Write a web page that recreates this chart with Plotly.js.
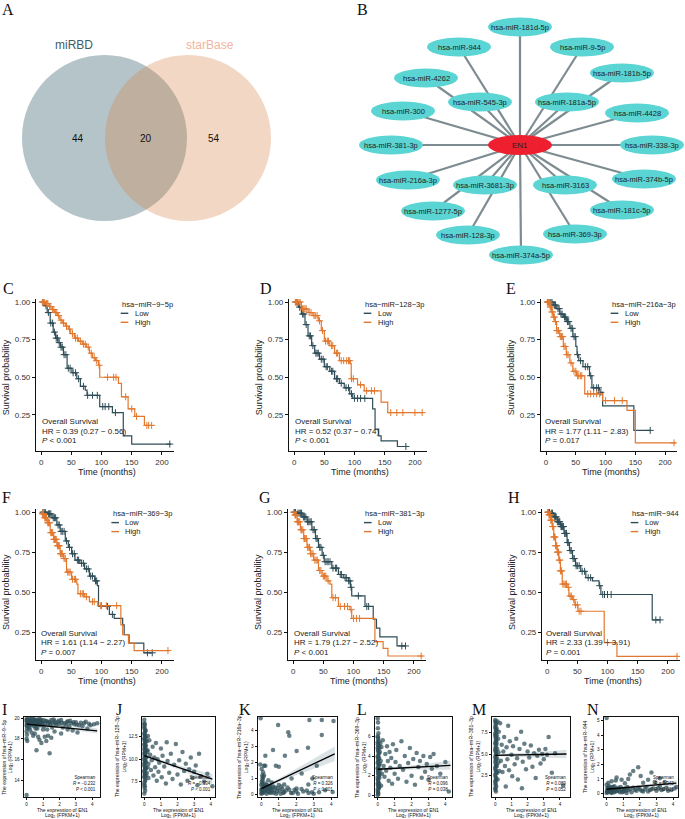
<!DOCTYPE html>
<html><head><meta charset="utf-8">
<script src="https://cdn.plot.ly/plotly-3.0.1.min.js"></script>
<style>html,body{margin:0;padding:0;background:#fff}#chart{width:685px;height:819px}</style>
</head><body><div id="chart"></div>
<script>
// ---------------- DATA ----------------
// A: Venn
const vennSets = ['miRBD', 'starBase'];
const vennCounts = [44, 20, 54];

// B: network (layout coordinates of the drawing, EN1 at origin)
const hubName = 'EN1';
const nodeNames = ['hsa-miR-181d-5p','hsa-miR-944','hsa-miR-9-5p','hsa-miR-4262','hsa-miR-181b-5p','hsa-miR-545-3p','hsa-miR-181a-5p','hsa-miR-300','hsa-miR-4428','hsa-miR-381-3p','hsa-miR-338-3p','hsa-miR-216a-3p','hsa-miR-3681-3p','hsa-miR-3163','hsa-miR-374b-5p','hsa-miR-1277-5p','hsa-miR-181c-5p','hsa-miR-128-3p','hsa-miR-369-3p','hsa-miR-374a-5p'];
const nodeX = [0, -61, 62, -94, 102, -40, 47, -117, 117, -129, 132, -112, -35, 45, 124, -87, 102, -52, 55, 1];
const nodeY = [118, 98, 98, 67, 72, 43, 43, 34, 32, 0, 0, -35, -40, -40, -34, -66, -65, -90, -89, -110];

// C-H: Kaplan-Meier
const kmGenes = ['hsa−miR−9−5p','hsa−miR−128−3p','hsa−miR−216a−3p','hsa−miR−369−3p','hsa−miR−381−3p','hsa−miR−944'];
const kmHR = ['HR = 0.39 (0.27 − 0.56)','HR = 0.52 (0.37 − 0.74)','HR = 1.77 (1.11 − 2.83)','HR = 1.61 (1.14 − 2.27)','HR = 1.79 (1.27 − 2.52)','HR = 2.33 (1.39 − 3.91)'];
const kmP = ['&lt; 0.001','&lt; 0.001','= 0.017','= 0.007','&lt; 0.001','= 0.001'];
const groupNames = ['Low', 'High'];
const timeTicks = [0, 50, 100, 150, 200];
const survTicks = [0.25, 0.50, 0.75, 1.00];

const C_lowT = [0,5,10,15,20,24,28,32,37,43,51,59,65,73,76,97,118,136,150,215];
const C_lowS = [1,.975,.93,.86,.80,.76,.73,.70,.65,.56,.53,.49,.44,.415,.38,.305,.265,.11,.056,.056];
const C_lowC = [3,8,12,16,19,22,25,27,30,33,35,38,41,45,48,53,57,62,70,77,85,93,102,106,112,123,213];
const C_highT = [0,8,13,18,22,27,31,35,40,45,49,55,62,68,75,80,85,90,95,97,128,133,144,155,171,183];
const C_highS = [1,.99,.97,.95,.93,.91,.88,.86,.84,.82,.79,.76,.74,.72,.70,.66,.63,.61,.58,.50,.46,.37,.29,.24,.18,.18];
const C_highC = [2,4,6,9,11,14,16,19,21,24,26,29,33,37,42,47,52,57,60,65,70,73,78,83,88,92,96,110,120,124,140,150,158,175,178,183];

const D_lowT = [0,7,12,18,23,29,34,42,50,59,67,75,83,92,97,130,134,140,144,171,187];
const D_lowS = [1,.966,.92,.85,.775,.71,.66,.62,.57,.54,.49,.46,.43,.39,.36,.29,.155,.11,.077,.04,.04];
const D_lowC = [3,5,9,14,16,20,25,27,31,36,38,40,45,48,53,55,62,64,70,72,78,86,90,95,100,105,110,117,185];
const D_highT = [0,12,23,31,40,45,50,59,67,75,93,94.5,105,116,144,155,214];
const D_highS = [1,.955,.93,.91,.875,.81,.74,.71,.66,.61,.59,.49,.45,.41,.335,.265,.265];
const D_highC = [2,4,6,8,10,14,16,18,20,25,28,33,35,38,42,47,52,55,57,62,64,70,72,78,82,87,90,92,95,98,110,120,128,133,160,170,180,200,212];

const E_lowT = [0,12,18,23,29,34,40,45,50,52,55,62,73,77,89.5,95,147.5,175];
const E_lowS = [1,.98,.956,.92,.90,.87,.825,.77,.705,.65,.61,.57,.51,.43,.40,.31,.147,.147];
const E_lowC = [3,5,8,10,14,16,20,22,25,27,31,33,36,38,42,44,47,49,53,58,66,70,75,80,85,88,92,175];
const E_highT = [0,6.6,9.4,12,15,17.7,23,29,34,40,45,51,65,95,136,150,218];
const E_highS = [1,.967,.934,.90,.87,.81,.77,.705,.65,.595,.54,.51,.39,.345,.28,.064,.064];
const E_highC = [2,4,5,7,8,10,11,13,14,16,18,20,21,24,26,28,30,32,35,37,42,47,50,53,55,58,60,70,75,80,85,90,100,115,128,215];

const F_lowT = [0,10,18,26,31.5,40,45,50.5,56,64,72,80,88.6,93,95,113,121,135,137.5,145.6,170,184];
const F_lowS = [1,.99,.965,.92,.88,.82,.78,.74,.70,.68,.645,.60,.57,.54,.41,.36,.335,.295,.233,.18,.12,.12];
const F_lowC = [3,5,7,12,14,16,20,22,24,28,30,33,35,38,42,47,52,55,60,62,67,70,75,78,82,85,90,92,110,118,176,184];
const F_highT = [0,1.6,5.4,10,15,20.7,26,31.5,37,42,50.5,59,61,72,80,94,132,135,144.6,154,211];
const F_highS = [1,.99,.965,.934,.872,.83,.79,.74,.71,.625,.58,.55,.49,.47,.44,.415,.295,.233,.18,.134,.134];
const F_highC = [2,3,4,6,7,8,9,11,12,13,14,16,17,18,19,21,22,23,24,25,27,28,29,30,32,33,34,35,38,40,44,46,48,52,55,57,65,68,70,75,85,88,98,100,108,125,210];

const G_lowT = [0,6.6,15,23,31,37,42,48,51.5,64,75,83,91.5,95,97,119,132.6,138,143.6,172,187];
const G_lowS = [1,.994,.97,.94,.89,.835,.78,.73,.69,.65,.61,.59,.57,.53,.476,.41,.33,.275,.22,.163,.163];
const G_lowC = [2,4,8,10,12,14,17,19,21,24,26,28,30,33,35,38,40,44,46,50,53,56,58,61,66,70,72,78,80,86,88,92,94,96,108,122,125,180,186];
const G_highT = [0,2.7,6.6,12,17.5,23,28.5,34,42,48,56,61,64,75,94,97,135.4,149,157,215];
const G_highS = [1,.983,.94,.89,.835,.78,.74,.70,.635,.60,.57,.55,.465,.41,.39,.335,.19,.148,.10,.10];
const G_highC = [1,3,4,5,7,8,9,11,13,14,16,18,19,21,22,24,26,27,29,31,33,36,38,40,44,46,50,52,54,58,66,70,78,85,90,96,100,105,110,212];

const H_lowT = [0,5.6,11,16.7,22,28,33,37,42,47,55.6,64,75,86,89,174,187];
const H_lowS = [1,.994,.97,.94,.91,.867,.81,.76,.71,.665,.63,.59,.57,.54,.485,.326,.326];
const H_lowC = [2,4,7,9,12,14,15,17,19,20,21,23,24,25,26,27,29,30,32,34,35,38,40,43,45,48,50,53,58,62,68,72,87,92,95,100,106,180,187];
const H_highT = [0,2.8,5.6,8.3,11,14,16.7,19.4,22,25,33,36,42,46,51,94.5,115.6,217];
const H_highS = [1,.983,.95,.91,.845,.79,.75,.70,.633,.55,.53,.475,.453,.42,.38,.184,.0975,.0975];
const H_highC = [1,2,3,4,5,6,7,8,9,10,11,12,13,14,15,16,17,18,19,20,21,22,23,24,26,28,30,32,35,38,40,44,47,50,53,56,100,215];

// I-N: correlation scatter
const scGenes = ['hsa−miR−9−5p','hsa−miR−128−3p','hsa−miR−216a−3p','hsa−miR−369−3p','hsa−miR−381−3p','hsa−miR−944'];
const scR = ['R = −0.232','R = −0.334','R = 0.326','R = 0.096','R = 0.089','R = 0.342'];
const scP = ['&lt; 0.001','&lt; 0.001','&lt; 0.001','= 0.038','= 0.052','&lt; 0.001'];

const ptsI = [[0,19.9],[0,19.7],[0.02,19.5],[0,19.3],[0.03,19.0],[0,18.7],[0.02,18.4],[0,18.0],[0.04,17.8],[0.01,19.8],[0.05,19.6],[0.03,19.2],[0,12.6],
[0.1,19.8],[0.15,19.5],[0.2,19.9],[0.25,19.3],[0.3,19.7],[0.35,19.6],[0.4,19.9],[0.45,19.2],[0.5,19.6],[0.55,19.8],[0.6,19.4],[0.65,19.0],[0.7,19.7],[0.75,19.5],[0.8,19.9],[0.85,19.3],[0.9,19.6],[1.0,19.8],[1.05,19.2],[1.1,19.5],[1.2,19.7],[1.25,18.9],[1.3,19.4],[1.4,19.6],[1.5,19.8],[1.55,19.1],[1.6,19.5],[1.7,19.7],[1.8,19.3],[1.9,19.6],[2.0,19.4],[2.1,19.8],[2.2,19.1],[2.3,19.5],[2.4,19.3],[2.5,19.7],[2.6,19.2],[2.7,19.5],[2.8,18.8],[2.9,19.4],[3.0,19.6],[3.1,18.6],[3.2,19.3],[3.4,19.2],[3.5,19.5],[3.7,19.0],[3.9,19.3],[4.3,19.5],
[0.6,16.9],[1.4,16.6],[0.9,17.6],[0.78,17.9],[1.1,18.2],[1.3,18.3],[1.2,17.8],[0.5,18.5],[0.4,18.3],[2.1,18.5],[0.7,18.2],[1.5,18.1],[0.2,18.9],[0.3,18.6],[1.7,18.7],[2.5,18.9],[0.15,19.1],[0.55,19.0],[1.0,18.9],
[0.05,19.85],[0.12,19.6],[0.18,19.75],[0.22,19.4],[0.28,19.9],[0.32,19.5],[0.38,19.75],[0.42,19.45],[0.48,19.85],[0.52,19.35],[0.58,19.7],[0.62,19.6],[0.68,19.85],[0.72,19.3],[0.78,19.7],[0.82,19.55],[0.88,19.8],[0.95,19.5],[1.15,19.75],[1.35,19.65],[1.45,19.4],[1.65,19.85],[1.75,19.5],[1.95,19.75],[2.15,19.55],[2.45,19.6],[2.65,19.75],[2.85,19.6],[3.05,19.35],[3.3,19.55],[3.6,19.65],[3.8,19.45],[4.1,19.4]];
const ptsJ = [[0,14.4],[0.02,13.9],[0,13.5],[0.05,13.1],[0,12.8],[0.03,12.5],[0,12.2],[0.06,11.9],[0,11.6],[0.02,11.3],[0.05,11.0],[0,10.7],[0.03,10.4],[0,10.1],[0.06,9.8],[0,9.5],[0.02,9.2],[0.04,8.9],[0,8.6],[0.03,8.3],[0,8.0],[0.05,7.6],[0,7.2],[0.02,6.8],[0,6.2],[0.1,11.5],[0.12,10.2],[0.1,9.0],[0.15,12.0],[0.15,8.5],[0.08,13.2],[0.06,10.6],
[0,14.0],[0.01,13.7],[0.04,13.3],[0.02,12.9],[0.05,12.6],[0.01,12.3],[0.04,12.0],[0.02,11.7],[0.06,11.4],[0.01,11.1],[0.04,10.8],[0.02,10.5],[0.07,10.2],[0.01,9.9],[0.04,9.6],[0.02,9.3],[0.06,9.0],[0.01,8.7],[0.04,8.4],[0.02,8.1],[0.06,7.8],[0.01,7.4],[0.03,7.0],[0.05,6.5],[0.09,12.4],[0.11,11.0],[0.09,9.7],[0.12,8.2],[0.18,10.8],[0.2,9.1],[0.22,12.6],[0.25,7.9],
[0.2,11.0],[0.25,9.5],[0.3,12.1],[0.35,10.5],[0.4,8.8],[0.45,9.9],[0.5,11.4],[0.55,8.2],[0.6,10.2],[0.65,9.1],[0.7,11.8],[0.75,7.6],[0.8,10.0],[0.85,8.6],[0.9,9.6],[1.0,11.2],[1.05,8.0],[1.1,10.4],[1.2,9.2],[1.3,7.3],[1.35,11.9],[1.4,9.8],[1.5,8.5],[1.6,10.6],[1.7,7.8],[1.8,9.4],[1.9,11.7],[2.0,8.3],[2.1,9.9],[2.2,7.2],[2.3,10.8],[2.4,8.7],[2.5,9.5],[2.6,7.6],[2.7,8.9],[2.8,10.2],[2.9,7.9],[3.0,8.6],[3.1,9.3],[3.2,7.1],[3.3,10.6],[3.4,8.1],[3.6,7.5],[3.8,8.4],[4.1,7.0]];
const ptsK = [[0,0.05],[0.02,0.2],[0.05,0.4],[0,0.6],[0.03,0.8],[0.06,1.0],[0,0.3],[0.1,0.1],[0.15,0.5],[0.2,0.25],[0.25,0.7],[0.3,0.05],[0.35,0.4],[0.4,0.9],[0.45,0.15],[0.5,0.55],[0.55,0.3],[0.6,0.75],[0.7,0.1],[0.8,0.45],[0.9,0.2],[1.0,0.6],[1.1,0.05],[1.2,0.35],[1.3,0.15],[1.5,0.45],[1.7,0.1],[1.9,0.3],[2.1,0.05],[2.4,0.2],[2.7,0.1],[3.0,0.05],[3.3,0.15],[0.05,1.2],[0.1,1.4],[0.02,1.6],[0.15,1.8],
[0.03,0.1],[0.07,0.3],[0.12,0.6],[0.05,0.7],[0.18,0.2],[0.22,0.45],[0.28,0.3],[0.32,0.6],[0.38,0.2],[0.42,0.5],[0.48,0.35],[0.52,0.1],[0.58,0.45],[0.62,0.2],[0.68,0.5],[0.75,0.3],[0.85,0.05],[0.95,0.4],[1.05,0.25],[1.15,0.5],[1.25,0.1],[1.4,0.25],[1.6,0.3],[1.8,0.1],[2.0,0.2],[2.3,0.35],[2.6,0.25],[2.9,0.15],[0.08,0.9],[0.12,1.1],
[-0.04,4.77],[0.96,4.35],[2.75,4.67],[3.46,4.67],[4.13,4.6],[1.54,3.89],[1.6,3.68],[3.46,3.72],[0.67,2.78],[2.02,2.72],[2.67,2.93],[0.23,2.43],[1.35,2.43],[-0.06,1.88],[0.23,1.8],[0.83,1.8],[1.0,1.74],[3.17,1.8],[2.31,1.32],[0.15,1.21],[2.92,1.0],[1.73,1.0],[2.69,0.63],[1.31,0.63],[2.02,0.38],[3.65,0.27],[4.08,0.17]];
const ptsL = [[0,7.8],[0.02,7.4],[0,6.0],[0.03,5.7],[0,5.4],[0.05,5.1],[0,4.8],[0.02,4.5],[0.06,4.2],[0,3.9],[0.03,3.6],[0,3.3],[0.05,3.0],[0,2.7],[0.02,2.4],[0.06,2.1],[0,1.8],[0.03,1.5],[0,1.2],[0.05,0.9],[0,0.6],[0.02,0.3],[0,0.05],[0.1,4.8],[0.12,3.2],[0.1,1.8],[0.15,2.6],[0.15,5.3],[0.08,0.8],
[0.01,6.8],[0.04,6.3],[0.02,5.9],[0.05,5.5],[0.01,5.2],[0.04,4.9],[0.02,4.6],[0.06,4.3],[0.01,4.0],[0.04,3.7],[0.02,3.4],[0.06,3.1],[0.01,2.8],[0.04,2.5],[0.02,2.2],[0.06,1.9],[0.01,1.6],[0.04,1.3],[0.02,1.0],[0.06,0.7],[0.01,0.4],[0.04,0.15],[0.09,3.8],[0.11,2.2],[0.13,4.4],[0.09,1.2],[0.18,3.5],[0.2,1.0],[0.22,4.9],[0.25,2.2],
[0.3,5.6],[0.35,3.0],[0.4,1.9],[0.45,4.2],[0.5,2.5],[0.55,5.0],[0.6,3.5],[0.65,1.5],[0.7,4.4],[0.75,2.8],[0.8,3.8],[0.85,1.2],[0.9,5.2],[1.0,2.2],[1.05,3.4],[1.1,4.6],[1.2,1.7],[1.3,3.0],[1.4,5.5],[1.5,2.6],[1.6,4.0],[1.7,1.4],[1.8,3.3],[1.9,4.8],[2.0,2.0],[2.1,3.7],[2.2,1.1],[2.3,4.3],[2.4,2.9],[2.5,3.5],[2.6,1.8],[2.7,4.0],[2.8,2.4],[2.9,3.2],[3.0,1.6],[3.1,3.9],[3.2,2.7],[3.3,4.2],[3.5,3.0],[3.7,2.2],[4.0,3.4],[4.2,0.4]];
const ptsM = [[0,9.0],[0.03,8.6],[0,8.2],[0.05,7.8],[0,7.4],[0.02,7.0],[0.06,6.6],[0,6.2],[0.03,5.8],[0,5.4],[0.05,5.0],[0,4.6],[0.02,4.2],[0.06,3.8],[0,3.4],[0.03,3.0],[0,2.6],[0.05,2.2],[0,1.8],[0.02,1.4],[0,1.0],[0.04,0.6],[0.1,7.2],[0.12,5.6],[0.1,3.6],[0.15,8.8],[0.15,2.0],
[0.01,8.8],[0.04,8.4],[0.02,8.0],[0.05,7.6],[0.01,7.2],[0.04,6.8],[0.02,6.4],[0.06,6.0],[0.01,5.6],[0.04,5.2],[0.02,4.8],[0.06,4.4],[0.01,4.0],[0.04,3.6],[0.02,3.2],[0.06,2.8],[0.01,2.4],[0.04,2.0],[0.02,1.6],[0.06,1.2],[0.01,0.8],[0.09,6.3],[0.11,4.5],[0.13,2.8],[0.09,8.0],[0.18,6.8],[0.2,4.0],[0.22,7.6],[0.25,3.0],[0.2,5.2],
[0.3,8.6],[0.35,4.2],[0.4,6.1],[0.45,2.9],[0.5,5.3],[0.55,7.0],[0.6,3.6],[0.65,1.2],[0.7,5.8],[0.75,4.4],[0.8,8.3],[0.85,3.1],[0.9,6.5],[1.0,4.9],[1.05,2.4],[1.1,5.9],[1.2,3.8],[1.3,6.8],[1.35,4.5],[1.4,2.0],[1.5,5.6],[1.6,7.6],[1.65,1.0],[1.7,4.1],[1.8,6.2],[1.9,3.2],[2.0,5.3],[2.1,4.6],[2.2,6.0],[2.3,3.5],[2.4,5.1],[2.5,2.2],[2.6,4.8],[2.7,5.5],[2.8,3.9],[2.9,5.0],[3.0,4.4],[3.1,5.6],[3.2,4.9],[3.3,7.0],[3.5,2.8],[3.7,5.1],[4.2,1.3]];
const ptsN = [[0,5.16],[0,0.05],[0.02,0.2],[0.05,0.4],[0,0.6],[0.08,0.1],[0.1,0.3],[0.15,0.5],[0.2,0.15],[0.25,0.35],[0.3,0.05],[0.35,0.25],[0.4,0.45],[0.45,0.1],[0.5,0.3],[0.6,0.2],[0.7,0.4],[0.8,0.1],[0.9,0.3],[1.0,0.15],[1.1,0.35],[1.2,0.05],[1.3,0.25],[1.5,0.1],[1.6,0.4],[1.8,0.2],[2.0,0.3],[2.2,0.15],[2.4,0.45],[2.6,0.25],[2.8,0.35],[3.0,0.2],[3.2,0.5],[3.4,0.3],[3.6,0.4],[3.9,0.25],[4.1,0.35],
[0.03,0.15],[0.07,0.35],[0.12,0.2],[0.17,0.4],[0.22,0.3],[0.27,0.1],[0.32,0.45],[0.37,0.15],[0.42,0.3],[0.47,0.5],[0.55,0.15],[0.65,0.3],[0.75,0.2],[0.85,0.45],[0.95,0.1],[1.05,0.3],[1.15,0.2],[1.25,0.45],[1.4,0.3],[1.7,0.25],[1.9,0.4],[2.1,0.2],[2.3,0.3],[2.5,0.15],[2.7,0.3],[3.1,0.35],[3.3,0.25],[3.7,0.2],[4.2,0.45],
[0.1,0.75],[0.3,0.85],[0.6,1.1],[0.55,0.9],[0.9,0.95],[1.3,1.0],[1.4,1.3],[1.6,1.55],[1.9,1.8],[2.05,1.2],[2.5,0.95],[2.7,1.45],[2.9,0.8],[3.2,1.05],[3.5,0.8],[1.1,0.7],[2.2,0.75]];

const regX = [[0,4.3],[0,4.1],[0,4.2],[0,4.3],[0,4.4],[0,4.2]];
const regY = [[19.42,18.77],[10.4,7.8],[0.37,2.55],[2.66,3.06],[4.85,5.0],[0.30,0.72]];
const bandX = [[0,1,2,3,4.3],[0,1,2,3,4.1],[0,1,2,3,4.2],[0,1,2,3,4.3],[0,1,2,3,4.4],[0,1,2,3,4.2]];
const bandLo = [[19.32,19.19,19.02,18.82,18.52],[10.15,9.59,8.91,8.15,7.25],[.25,.77,1.21,1.63,2.10],[2.56,2.63,2.65,2.64,2.61],[4.73,4.73,4.67,4.6,4.5],[.26,.35,.42,.48,.54]];
const bandHi = [[19.52,19.35,19.22,19.12,19.02],[10.65,9.95,9.35,8.85,8.35],[.49,1.01,1.61,2.23,3.0],[2.76,2.87,3.05,3.24,3.51],[4.97,5.03,5.17,5.3,5.5],[.34,.45,.58,.72,.90]];
const scYTicks = [[14,16,18,20],[7.5,10,12.5],[0,1,2,3,4],[0,2,4,6],[2.5,5,7.5],[0,1,2,3,4,5]];
const scYTickText = [['14','16','18','20'],['7.5','10.0','12.5'],['0','1','2','3','4'],['0','2','4','6'],['2.5','5.0','7.5'],['0','1','2','3','4','5']];
const scXTicks = [0,1,2,3,4];

// ---------------- DRAWING ----------------
const W = 685, H = 819;
const px = x => x / W, py = y => 1 - y / H;
const LOWC = '#2e4d57', HIGHC = '#e2782f', SANS = 'Liberation Sans, Arial, sans-serif';
const data = [];
const layout = {width: W, height: H, margin: {l:0, r:0, t:0, b:0}, paper_bgcolor: '#fff', plot_bgcolor: 'rgba(0,0,0,0)',
  showlegend: false, font: {family: SANS, color: '#222'}, shapes: [], annotations: []};
function A(text, x, y, o) {
  layout.annotations.push(Object.assign({text: text, x: px(x), y: py(y), xref: 'paper', yref: 'paper', showarrow: false,
    xanchor: 'left', yanchor: 'middle', font: {family: SANS, size: 8, color: '#222'}}, o || {}));
}
const letterFont = {family: 'Liberation Serif, Times New Roman, serif', size: 16, color: '#111'};

// Panel A
A('A', 0, 10, {font: letterFont});
layout.shapes.push({type: 'circle', xref: 'paper', yref: 'paper', x0: px(22), x1: px(187), y0: py(221), y1: py(55), fillcolor: '#b4c4c8', line: {width: 0}, layer: 'below'});
layout.shapes.push({type: 'circle', xref: 'paper', yref: 'paper', x0: px(105), x1: px(271), y0: py(221), y1: py(55), fillcolor: 'rgba(214,130,71,0.32)', line: {width: 0}, layer: 'below'});
A(vennSets[0], 74, 45, {xanchor: 'center', font: {family: SANS, size: 12, color: '#3f5c68'}});
A(vennSets[1], 210, 45, {xanchor: 'center', font: {family: SANS, size: 12, color: '#f4b3a0'}});
[78, 146, 214].forEach((x, i) => A(String(vennCounts[i]), x, 138, {xanchor: 'center', font: {family: SANS, size: 10, color: '#111'}}));

// Panel B
A('B', 355, 10, {font: letterFont});
layout.xaxis = {domain: [px(340), 1], range: [-180, 165], visible: false, fixedrange: true};
layout.yaxis = {domain: [py(280), 1], range: [-135, 145], visible: false, fixedrange: true};
const ex = [], ey = [];
nodeNames.forEach((n, i) => { ex.push(0, nodeX[i], null); ey.push(0, nodeY[i], null); });
data.push({type: 'scatter', mode: 'lines', x: ex, y: ey, xaxis: 'x', yaxis: 'y', line: {color: '#7d8c90', width: 2.2}, hoverinfo: 'skip'});
nodeNames.forEach((n, i) => {
  layout.shapes.push({type: 'circle', xref: 'x', yref: 'y', x0: nodeX[i] - 32, x1: nodeX[i] + 32, y0: nodeY[i] - 9.5, y1: nodeY[i] + 9.5, fillcolor: '#5ad5d3', line: {width: 0}});
  layout.annotations.push({text: n, x: nodeX[i], y: nodeY[i], xref: 'x', yref: 'y', showarrow: false, font: {family: SANS, size: 7.5, color: '#222'}});
});
layout.shapes.push({type: 'circle', xref: 'x', yref: 'y', x0: -32, x1: 32, y0: -10, y1: 10, fillcolor: '#ee1f2f', line: {width: 0}});
layout.annotations.push({text: hubName, x: 0, y: 0, xref: 'x', yref: 'y', showarrow: false, font: {family: SANS, size: 8, color: '#222'}});

// Panels C-H
const kmData = [
  [C_lowT, C_lowS, C_lowC, C_highT, C_highS, C_highC],
  [D_lowT, D_lowS, D_lowC, D_highT, D_highS, D_highC],
  [E_lowT, E_lowS, E_lowC, E_highT, E_highS, E_highC],
  [F_lowT, F_lowS, F_lowC, F_highT, F_highS, F_highC],
  [G_lowT, G_lowS, G_lowC, G_highT, G_highS, G_highC],
  [H_lowT, H_lowS, H_lowC, H_highT, H_highS, H_highC]];
const kmBox = [
  {L: 'C', lx: 1, ly: 288, l: 36, r: 174, t: 299, b: 451, lo: 0.01, leg: 120, legY: 304, ann: 40, annY: 421.7},
  {L: 'D', lx: 258, ly: 288, l: 289, r: 427, t: 299, b: 451, lo: 0.01, leg: 363, legY: 304, ann: 293, annY: 421.7},
  {L: 'E', lx: 504, ly: 288, l: 541, r: 677, t: 299, b: 451, lo: 0.01, leg: 610, legY: 304, ann: 543, annY: 421.7},
  {L: 'F', lx: 0, ly: 498, l: 36, r: 174, t: 509, b: 660, lo: 0.075, leg: 110.7, legY: 513.3, ann: 39.3, annY: 633.3},
  {L: 'G', lx: 257, ly: 498, l: 288, r: 426, t: 509, b: 660, lo: 0.075, leg: 363.3, legY: 513.3, ann: 291.7, annY: 633.3},
  {L: 'H', lx: 506, ly: 498, l: 542, r: 680, t: 509, b: 660, lo: 0.075, leg: 630, legY: 513.3, ann: 544.3, annY: 633.3}];
function survAt(t, T, S) { let v = S[0]; for (let k = 0; k < T.length; k++) { if (T[k] <= t) v = S[k]; } return v; }
kmBox.forEach((bx, i) => {
  const n = i + 2, xa = 'x' + n, ya = 'y' + n;
  layout['xaxis' + n] = {domain: [px(bx.l), px(bx.r)], range: [-8.5, 220], anchor: ya, showline: true, linecolor: '#111', linewidth: 1.1,
    ticks: 'outside', ticklen: 3, tickcolor: '#111', tickwidth: 1, tickvals: timeTicks, tickfont: {family: SANS, size: 8, color: '#333'}, showgrid: false, zeroline: false, fixedrange: true};
  layout['yaxis' + n] = {domain: [py(bx.b), py(bx.t)], range: [bx.lo, 1.02], anchor: xa, showline: true, linecolor: '#111', linewidth: 1.1,
    ticks: 'outside', ticklen: 3, tickcolor: '#111', tickwidth: 1, tickvals: survTicks, ticktext: ['0.25','0.50','0.75','1.00'], tickfont: {family: SANS, size: 8, color: '#333'}, showgrid: false, zeroline: false, fixedrange: true};
  const d = kmData[i];
  [[d[0], d[1], d[2], LOWC], [d[3], d[4], d[5], HIGHC]].forEach(g => {
    data.push({type: 'scatter', mode: 'lines', x: g[0], y: g[1], xaxis: xa, yaxis: ya, line: {color: g[3], width: 1.2, shape: 'hv'}, hoverinfo: 'skip'});
    data.push({type: 'scatter', mode: 'markers', x: g[2], y: g[2].map(t => survAt(t, g[0], g[1])), xaxis: xa, yaxis: ya,
      marker: {symbol: 'cross-thin', size: 5, color: g[3], line: {width: 1, color: g[3]}}, hoverinfo: 'skip'});
  });
  A(bx.L, bx.lx, bx.ly, {font: letterFont});
  A(kmGenes[i], bx.leg, bx.legY, {font: {family: SANS, size: 7.5, color: '#222'}});
  [LOWC, HIGHC].forEach((c, k) => {
    const yy = bx.legY + 9.3 + 9 * k;
    layout.shapes.push({type: 'line', xref: 'paper', yref: 'paper', x0: px(bx.leg + 0.7), x1: px(bx.leg + 8.3), y0: py(yy), y1: py(yy), line: {color: c, width: 1.4}});
    A(groupNames[k], bx.leg + 12.5, yy, {font: {family: SANS, size: 7.5, color: '#222'}});
  });
  A('Overall Survival', bx.ann, bx.annY, {font: {family: SANS, size: 8, color: '#222'}});
  A(kmHR[i], bx.ann, bx.annY + 9.5, {font: {family: SANS, size: 8, color: '#222'}});
  A('<i>P</i> ' + kmP[i], bx.ann, bx.annY + 19, {font: {family: SANS, size: 8, color: '#222'}});
  const y05 = bx.b - (0.5 - bx.lo) / (1.02 - bx.lo) * (bx.b - bx.t);
  A('Survival probability', bx.l - 30, y05, {xanchor: 'center', textangle: -90, font: {family: SANS, size: 9, color: '#222'}});
  A('Time (months)', (bx.l + bx.r) / 2 + 2, bx.b + 21, {xanchor: 'center', font: {family: SANS, size: 9, color: '#222'}});
});

// Panels I-N
const scPts = [ptsI, ptsJ, ptsK, ptsL, ptsM, ptsN];
const scBox = [
  {L: 'I', lx: 0, l: 24, r: 100, xr: [-0.16, 4.47], yr: [12.4, 20.1], yt: 7.8},
  {L: 'J', lx: 114, l: 142, r: 215, xr: [-0.14, 4.26], yr: [5.8, 14.7], yt: 121},
  {L: 'K', lx: 237, l: 258, r: 337, xr: [-0.19, 4.33], yr: [-0.15, 4.85], yt: 243},
  {L: 'L', lx: 355, l: 375, r: 452, xr: [-0.16, 4.39], yr: [-0.15, 7.95], yt: 361},
  {L: 'M', lx: 470, l: 492, r: 570, xr: [-0.2, 4.62], yr: [-0.04, 9.34], yt: 475},
  {L: 'N', lx: 585, l: 604, r: 678, xr: [-0.16, 4.3], yr: [-0.23, 5.23], yt: 589}];
const sT = 717, sB = 797;
scBox.forEach((bx, i) => {
  const n = i + 8, xa = 'x' + n, ya = 'y' + n;
  const tf = {family: SANS, size: 4.6, color: '#111'};
  layout['xaxis' + n] = {domain: [px(bx.l), px(bx.r)], range: bx.xr, anchor: ya, showline: true, mirror: true, linecolor: '#111', linewidth: 1.4,
    ticks: 'outside', ticklen: 2, tickcolor: '#111', tickvals: scXTicks, tickfont: tf, showgrid: false, zeroline: false, fixedrange: true};
  layout['yaxis' + n] = {domain: [py(sB), py(sT)], range: bx.yr, anchor: xa, showline: true, mirror: true, linecolor: '#111', linewidth: 1.4,
    ticks: 'outside', ticklen: 2, tickcolor: '#111', tickvals: scYTicks[i], ticktext: scYTickText[i], tickfont: tf, showgrid: false, zeroline: false, fixedrange: true};
  const bx_ = bandX[i];
  data.push({type: 'scatter', mode: 'lines', x: bx_.concat(bx_.slice().reverse()), y: bandHi[i].concat(bandLo[i].slice().reverse()),
    fill: 'toself', fillcolor: 'rgba(190,203,207,0.55)', line: {width: 0}, xaxis: xa, yaxis: ya, hoverinfo: 'skip'});
  data.push({type: 'scatter', mode: 'markers', x: scPts[i].map(p => p[0]), y: scPts[i].map(p => p[1]), xaxis: xa, yaxis: ya,
    marker: {size: 4.5, color: 'rgba(46,77,87,0.72)', line: {width: 0}}, hoverinfo: 'skip'});
  data.push({type: 'scatter', mode: 'lines', x: regX[i], y: regY[i], xaxis: xa, yaxis: ya, line: {color: '#000', width: 1.3}, hoverinfo: 'skip'});
  A(bx.L, bx.lx, 709, {font: letterFont});
  A('The expression of ' + scGenes[i] + '<br>Log<sub>2</sub> (RPM+1)', bx.yt, (sT + sB) / 2, {xanchor: 'center', textangle: -90, font: {family: SANS, size: 5, color: '#111'}});
  A('The expression of EN1', (bx.l + bx.r) / 2, 809.8, {xanchor: 'center', font: {family: SANS, size: 5, color: '#111'}});
  A('Log<sub>2</sub> (FPKM+1)', (bx.l + bx.r) / 2, 815, {xanchor: 'center', font: {family: SANS, size: 5, color: '#111'}});
  A('Spearman<br><i>R</i> ' + scR[i].slice(2) + '<br><i>P</i> ' + scP[i], bx.r - 2.5, sB - 3, {xanchor: 'right', yanchor: 'bottom', align: 'right', font: {family: SANS, size: 4.5, color: '#111'}});
});

Plotly.newPlot('chart', data, layout, {staticPlot: true});
</script>
</body></html>
